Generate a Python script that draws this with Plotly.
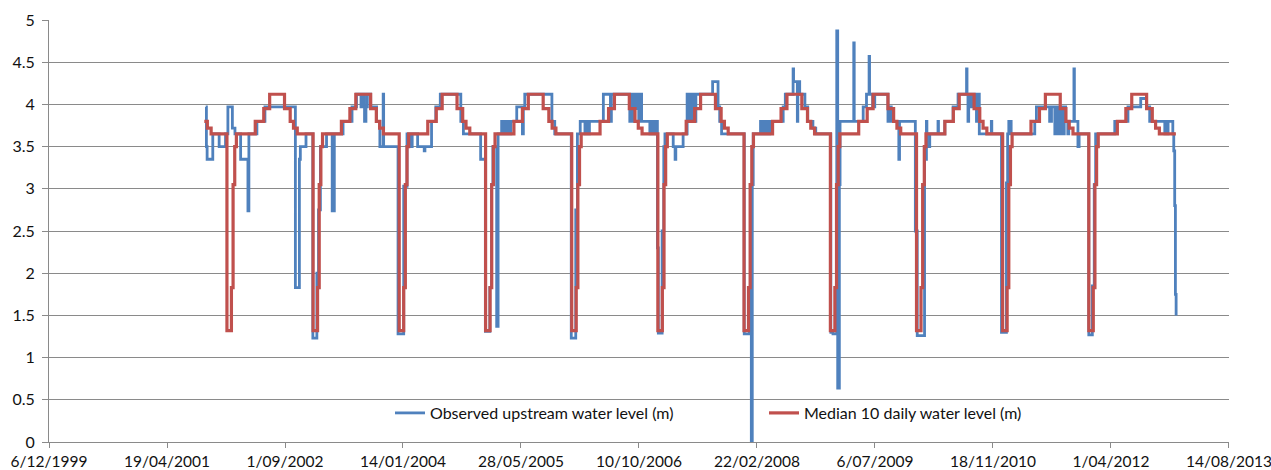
import pandas as pd
import plotly.graph_objects as go

# ---------------- DATA ----------------
# Observed upstream water level (m): step change points, x as Excel serial dates
obs_serial = [
    37164, 37167, 37170, 37194, 37221, 37248, 37258, 37277, 37288, 37312,
    37343, 37347, 37381, 37415, 37544, 37561, 37565, 37589, 37618, 37635,
    37642, 37650, 37676, 37700, 37709, 37746, 37784, 37803, 37822, 37827,
    37837, 37843, 37849, 37863, 37888, 37902, 37916, 37918, 37979, 38003,
    38017, 38029, 38039, 38062, 38090, 38093, 38121, 38139, 38158, 38245,
    38256, 38329, 38349, 38368, 38375, 38381, 38397, 38403, 38418, 38425,
    38430, 38440, 38444, 38453, 38457, 38482, 38506, 38510, 38516, 38631,
    38643, 38713, 38732, 38739, 38751, 38771, 38774, 38785, 38790, 38849,
    38879, 38883, 38961, 38965, 38974, 38978, 38987, 38991, 38999, 39004,
    39011, 39046, 39049, 39057, 39060, 39067, 39070, 39078, 39082, 39098,
    39105, 39110, 39145, 39153, 39156, 39187, 39204, 39211, 39216, 39224,
    39228, 39237, 39241, 39312, 39335, 39342, 39350, 39446, 39468, 39476,
    39480, 39484, 39515, 39525, 39529, 39537, 39541, 39550, 39554, 39611,
    39620, 39653, 39655, 39671, 39673, 39681, 39703, 39715, 39737, 39749,
    39813, 39822, 39838, 39842, 39849, 39852, 39910, 39912, 39950, 39964,
    39975, 39977, 39990, 39999, 40055, 40063, 40069, 40101, 40104, 40171,
    40179, 40210, 40218, 40220, 40232, 40267, 40269, 40296, 40331, 40352,
    40388, 40390, 40394, 40397, 40406, 40410, 40419, 40423, 40430, 40440,
    40442, 40493, 40495, 40536, 40557, 40562, 40567, 40577, 40677, 40684,
    40740, 40748, 40762, 40766, 40772, 40776, 40783, 40787, 40798, 40802,
    40808, 40817, 40821, 40843, 40845, 40860, 40865, 40906, 40921, 40929,
    40935, 41016, 41072, 41126, 41150, 41164, 41228, 41232, 41238, 41242,
    41262, 41266, 41270, 41273, 41276,
]
obs_level = [
    3.97, 3.50, 3.35, 3.65, 3.50, 3.65, 3.97, 3.72, 3.65, 3.35,
    2.74, 3.65, 3.80, 3.97, 1.83, 3.35, 3.50, 3.65, 1.23, 2.00,
    2.75, 3.50, 3.65, 2.74, 3.65, 3.80, 3.97, 4.12, 3.97, 4.12,
    3.80, 3.97, 4.12, 3.97, 3.80, 3.50, 4.12, 3.50, 1.28, 3.03,
    3.65, 3.50, 3.65, 3.50, 3.45, 3.50, 3.80, 3.97, 4.12, 3.80,
    3.65, 3.35, 1.31, 1.83, 3.05, 3.50, 1.37, 3.65, 3.80, 3.65,
    3.80, 3.65, 3.80, 3.65, 3.80, 3.97, 3.65, 3.97, 4.12, 3.80,
    3.65, 1.23, 2.75, 3.65, 3.80, 3.65, 3.80, 3.65, 3.80, 4.12,
    3.80, 4.12, 3.80, 4.12, 3.80, 4.12, 3.95, 4.12, 3.80, 4.12,
    3.80, 3.65, 3.80, 3.65, 3.80, 3.65, 3.80, 2.30, 1.29, 2.50,
    3.50, 3.65, 3.50, 3.35, 3.50, 3.65, 4.12, 3.80, 4.12, 3.80,
    4.12, 3.80, 4.12, 4.27, 3.97, 3.80, 3.65, 1.28, 1.80, 0.00,
    3.05, 3.65, 3.80, 3.65, 3.80, 3.65, 3.80, 3.65, 3.80, 3.97,
    4.12, 4.42, 4.27, 3.80, 4.27, 4.12, 3.97, 3.80, 3.72, 3.65,
    1.30, 1.28, 4.87, 0.64, 3.05, 3.80, 4.73, 3.80, 3.97, 4.12,
    4.57, 4.12, 3.97, 4.12, 3.80, 3.97, 3.80, 3.35, 3.80, 2.50,
    1.26, 3.35, 3.80, 3.50, 3.65, 3.80, 3.65, 3.80, 3.97, 4.12,
    4.42, 4.12, 3.80, 4.12, 3.97, 4.12, 3.97, 4.12, 3.80, 4.12,
    3.65, 3.80, 3.65, 1.30, 3.07, 3.65, 3.80, 3.65, 3.80, 3.97,
    3.80, 3.97, 3.65, 3.97, 3.65, 3.97, 3.65, 3.97, 3.65, 3.97,
    3.80, 3.65, 3.80, 4.42, 3.80, 3.50, 3.65, 1.27, 1.85, 3.05,
    3.65, 3.80, 3.97, 4.07, 3.97, 3.80, 3.65, 3.80, 3.65, 3.80,
    3.65, 3.45, 2.80, 1.75, 1.50,
]

# Median 10 daily water level (m): one annual pattern of step changes
median_first_dates = ["2001-09-24", "2001-10-07", "2001-10-23", "2001-12-29"]
median_first_levels = [3.80, 3.72, 3.65, 1.32]
median_pattern_md = ["01-17", "01-24", "01-31", "02-07", "04-28", "06-03",
                     "06-28", "08-30", "09-23", "10-07", "10-23", "12-29"]
median_pattern_level = [1.83, 3.05, 3.50, 3.65, 3.80, 3.95,
                        4.12, 3.95, 3.80, 3.72, 3.65, 1.32]
median_years = list(range(2002, 2013))
median_end_date = "2013-01-01"
median_end_level = 3.65

# Axis
x_tick_serials = [36500, 37000, 37500, 38000, 38500, 39000,
                  39500, 40000, 40500, 41000, 41500]
y_ticks = [0, 0.5, 1, 1.5, 2, 2.5, 3, 3.5, 4, 4.5, 5]

series_names = ["Observed upstream water level (m)",
                "Median 10 daily water level (m)"]

# ---------------- BUILD ----------------
def serial_to_date(s):
    return pd.to_datetime(s, unit="D", origin="1899-12-30")

obs_dates = serial_to_date(pd.Series(obs_serial))

med_dates = list(median_first_dates)
med_levels = list(median_first_levels)
for yr in median_years:
    for md, lv in zip(median_pattern_md, median_pattern_level):
        if yr == median_years[-1] and md == median_pattern_md[-1]:
            continue
        med_dates.append(f"{yr}-{md}")
        med_levels.append(lv)
med_dates.append(median_end_date)
med_levels.append(median_end_level)
med_dates = pd.to_datetime(med_dates)

tick_dates = serial_to_date(pd.Series(x_tick_serials))
tick_text = [f"{d.day}/{d.month:02d}/{d.year}" for d in tick_dates]
tick_strs = [d.strftime("%Y-%m-%d") for d in tick_dates]

FONT = "Lato"
TXT = "#111111"
GRID = "#8a8a8a"

fig = go.Figure()
fig.add_trace(go.Scatter(
    x=obs_dates, y=obs_level, mode="lines", line_shape="hv",
    line=dict(color="#4F81BD", width=2.8), name=series_names[0],
    legend="legend"))
fig.add_trace(go.Scatter(
    x=med_dates, y=med_levels, mode="lines", line_shape="hv",
    line=dict(color="#C0504D", width=3.2), name=series_names[1],
    legend="legend2"))

fig.update_layout(
    width=1271, height=470,
    margin=dict(l=49, r=42, t=20, b=28, autoexpand=False),
    paper_bgcolor="white", plot_bgcolor="white",
    font=dict(family=FONT, size=16, color=TXT),
    showlegend=True,
    legend=dict(x=(390 - 49) / 1180, y=(442 - 413) / 422, xanchor="left",
                yanchor="middle", bgcolor="rgba(0,0,0,0)",
                font=dict(family=FONT, size=16, color=TXT)),
    legend2=dict(x=(764 - 49) / 1180, y=(442 - 413) / 422, xanchor="left",
                 yanchor="middle", bgcolor="rgba(0,0,0,0)",
                 font=dict(family=FONT, size=16, color=TXT)),
)
fig.update_xaxes(
    type="date", automargin=False,
    range=[tick_strs[0], tick_strs[-1] + " 02:00"],
    tickvals=tick_strs, ticktext=tick_text,
    ticklabeloverflow="allow",
    showgrid=False, showline=True, linecolor=GRID, linewidth=1,
    ticks="outside", ticklen=5, tickcolor=GRID, zeroline=False,
    tickfont=dict(family=FONT, size=15.5, color=TXT),
)
fig.update_yaxes(
    automargin=False,
    range=[0, 5], tickvals=y_ticks,
    showgrid=True, gridcolor=GRID, gridwidth=1,
    showline=True, linecolor=GRID, linewidth=1,
    ticks="outside", ticklen=6, tickcolor=GRID, zeroline=False,
    tickfont=dict(family=FONT, size=16, color=TXT),
    ticklabelstandoff=4,
)

fig.write_html(
    "out.html",
    config={"displayModeBar": False},
    post_script="document.body.style.margin='0';"
                "document.body.style.overflow='hidden';",
)
